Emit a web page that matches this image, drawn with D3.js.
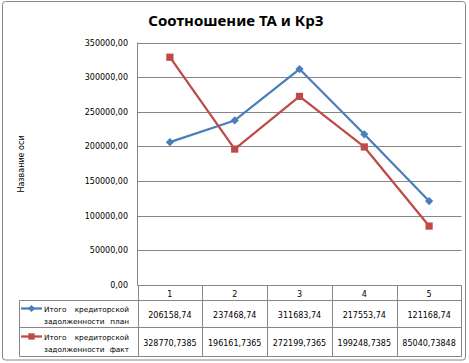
<!DOCTYPE html>
<html><head><meta charset="utf-8">
<script src="https://cdn.jsdelivr.net/npm/d3@7"></script>
<style>body{margin:0;background:#fff}svg{display:block}text{font-family:"DejaVu Sans",sans-serif}</style>
</head><body><svg id="c" width="469" height="363"></svg>
<script>
const title = "Соотношение ТА и КрЗ";
const yTitle = "Название оси";
const categories = ["1","2","3","4","5"];
const planValues = [206158.74, 237468.74, 311683.74, 217553.74, 121168.74];
const factValues = [328770.7385, 196161.7365, 272199.7365, 199248.7385, 85040.73848];
const planLabels = ["206158,74","237468,74","311683,74","217553,74","121168,74"];
const factLabels = ["328770,7385","196161,7365","272199,7365","199248,7385","85040,73848"];
const seriesNames = [["Итого","кредиторской","задолженности","план"],["Итого","кредиторской","задолженности","факт"]];
const yTicks = [0,50000,100000,150000,200000,250000,300000,350000];

const svg = d3.select("#c");
const grid = "#868686";
const L = 137.5, R = 461.5, T = 42.5, B = 285;
const x = d3.scaleBand().domain(categories).range([L, R]);
const y = d3.scaleLinear().domain([0, 350000]).range([B, T]);

svg.append("rect").attr("x",2.5).attr("y",1.5).attr("width",463).attr("height",358.5)
  .attr("rx",3).attr("fill","#fff").attr("stroke",grid);

svg.append("text").attr("x",236).attr("y",26).attr("text-anchor","middle")
  .style("font-family","'Noto Sans',sans-serif").style("font-weight","bold").style("font-size","15px").text(title);

// gridlines + y labels
const fmt = v => d3.format(".2f")(v).replace(".", ",");
svg.append("g").selectAll("line").data(yTicks).join("line")
  .attr("x1",L).attr("x2",R).attr("y1",d=>Math.round(y(d))+0.5).attr("y2",d=>Math.round(y(d))+0.5)
  .attr("stroke",grid).attr("stroke-width",1);
svg.append("g").selectAll("text").data(yTicks).join("text")
  .attr("x",128).attr("y",d=>Math.round(y(d))+3).attr("text-anchor","end")
  .style("font-size","8px").text(fmt);
svg.append("line").attr("x1",L).attr("x2",L).attr("y1",T).attr("y2",B).attr("stroke",grid);

svg.append("text").attr("transform","translate(24,164) rotate(-90)").attr("text-anchor","middle")
  .style("font-size","8px").text(yTitle);

// table
const rowY = [285.5, 300.5, 327.5, 356.5];
const tl = 19.5;
const tg = svg.append("g").attr("stroke",grid).attr("stroke-width",1);
tg.append("line").attr("x1",L).attr("x2",R).attr("y1",rowY[0]).attr("y2",rowY[0]);
[1,2,3].forEach(i=>tg.append("line").attr("x1",tl).attr("x2",R).attr("y1",rowY[i]).attr("y2",rowY[i]));
tg.append("line").attr("x1",tl).attr("x2",tl).attr("y1",rowY[1]).attr("y2",rowY[3]);
categories.forEach(c=>tg.append("line").attr("x1",Math.round(x(c))+0.5).attr("x2",Math.round(x(c))+0.5).attr("y1",rowY[0]).attr("y2",rowY[3]));
tg.append("line").attr("x1",R).attr("x2",R).attr("y1",rowY[0]).attr("y2",rowY[3]);

const cx = c => x(c) + x.bandwidth()/2;
svg.append("g").selectAll("text").data(categories).join("text")
  .attr("x",cx).attr("y",296.5).attr("text-anchor","middle").style("font-size","8px").text(d=>d);
svg.append("g").selectAll("text").data(planLabels).join("text")
  .attr("x",(d,i)=>cx(categories[i])).attr("y",317.5).attr("text-anchor","middle").style("font-size","8px").text(d=>d);
svg.append("g").selectAll("text").data(factLabels).join("text")
  .attr("x",(d,i)=>cx(categories[i])).attr("y",345.5).attr("text-anchor","middle").style("font-size","8px").text(d=>d);

const colors = ["#4a7ebb","#be4b48"];
const markerPath = [
  d3.symbol(d3.symbolSquare, 34)(),
  d3.symbol(d3.symbolSquare, 52)()
];
const markerRot = [45, 0];
const legendY = [308.5, 336.5];
seriesNames.forEach((w,i)=>{
  const g = svg.append("g");
  g.append("line").attr("x1",21).attr("x2",42).attr("y1",legendY[i]).attr("y2",legendY[i]).attr("stroke",colors[i]).attr("stroke-width",2.25);
  g.append("path").attr("d",d3.symbol(d3.symbolSquare, i ? 40 : 26)()).attr("transform",`translate(31.5,${legendY[i]}) rotate(${markerRot[i]})`).attr("fill",colors[i]);
  const fs = "7.3px";
  g.append("text").attr("x",44).attr("y",legendY[i]+3).style("font-size",fs).text(w[0]);
  g.append("text").attr("x",129).attr("y",legendY[i]+3).attr("text-anchor","end").style("font-size",fs).text(w[1]);
  g.append("text").attr("x",44).attr("y",legendY[i]+15.5).style("font-size",fs).text(w[2]);
  g.append("text").attr("x",129).attr("y",legendY[i]+15.5).attr("text-anchor","end").style("font-size",fs).text(w[3]);
});

// series
[planValues, factValues].forEach((vals,i)=>{
  const line = d3.line().x((d,j)=>cx(categories[j])).y(d=>y(d));
  svg.append("path").datum(vals).attr("d",line).attr("fill","none").attr("stroke",colors[i]).attr("stroke-width",2.25).attr("stroke-linejoin","round");
  svg.append("g").selectAll("path").data(vals).join("path")
    .attr("d",markerPath[i]).attr("transform",(d,j)=>`translate(${cx(categories[j])},${y(d)}) rotate(${markerRot[i]})`)
    .attr("fill",colors[i]);
});
</script></body></html>
